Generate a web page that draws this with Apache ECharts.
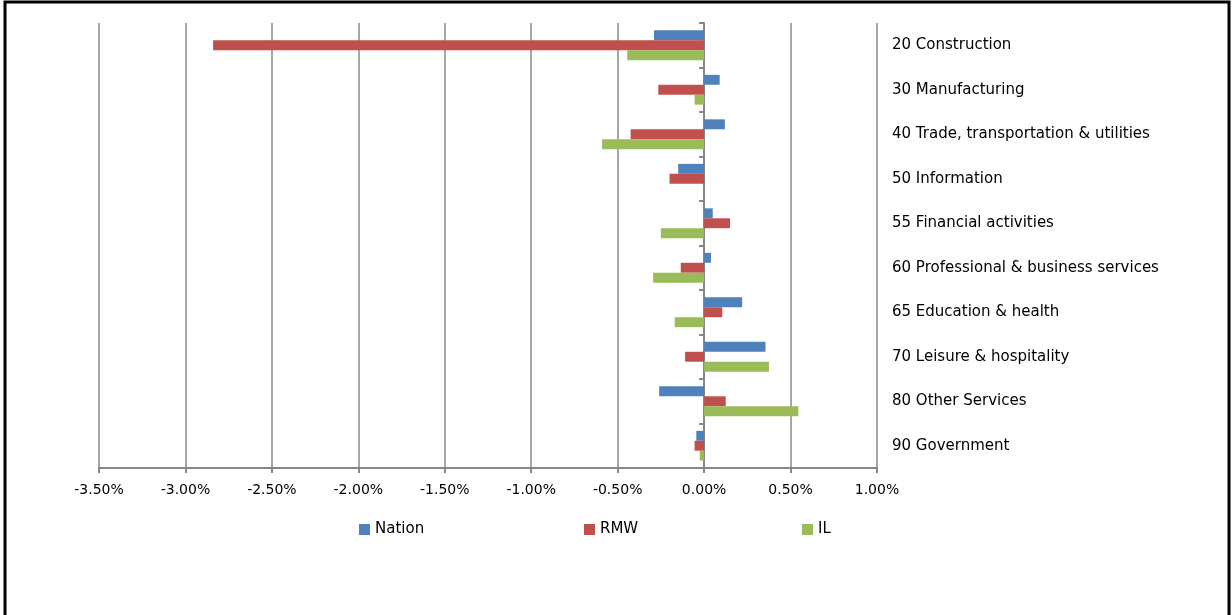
<!DOCTYPE html>
<html>
<head>
<meta charset="utf-8">
<script src="https://cdn.jsdelivr.net/npm/echarts@6/dist/echarts.min.js"></script>
<style>
  html, body { margin: 0; padding: 0; background: #fff; }
  #chart { width: 1232px; height: 615px; }
</style>
</head>
<body>
<div id="chart"></div>
<script>
// Industries, top to bottom
const categories = [
  '20 Construction',
  '30 Manufacturing',
  '40 Trade, transportation & utilities',
  '50 Information',
  '55 Financial activities',
  '60 Professional & business services',
  '65 Education & health',
  '70 Leisure & hospitality',
  '80 Other Services',
  '90 Government'
];

// Percent change by region (in %)
const nation = [-0.29, 0.09, 0.12, -0.15, 0.05, 0.04, 0.22, 0.355, -0.26, -0.045];
const rmw    = [-2.84, -0.265, -0.425, -0.20, 0.15, -0.135, 0.105, -0.11, 0.125, -0.055];
const il     = [-0.445, -0.055, -0.59, 0, -0.25, -0.295, -0.17, 0.375, 0.545, -0.025];

const seriesNames = ['Nation', 'RMW', 'IL'];
const seriesColors = ['#4F81BD', '#C0504D', '#9BBB59'];
const legendLeft = [359, 584, 802];

const FONT = 'DejaVu Sans';

const chart = echarts.init(document.getElementById('chart'), null, { renderer: 'canvas' });

chart.setOption({
  animation: false,
  backgroundColor: '#fff',
  textStyle: { fontFamily: FONT, color: '#000' },
  graphic: [{
    type: 'rect',
    shape: { x: 5, y: 2, width: 1224, height: 660 },
    style: { fill: 'none', stroke: '#000', lineWidth: 3 },
    silent: true
  }],
  // one legend entry per box so each sits at its own spot
  legend: seriesNames.map((name, i) => ({
    data: [name],
    left: legendLeft[i],
    top: 522,
    padding: 0,
    itemWidth: 11,
    itemHeight: 11,
    icon: 'rect',
    textStyle: { fontFamily: FONT, fontSize: 15, color: '#000' }
  })),
  grid: { left: 99, right: 355, top: 23, bottom: 147, containLabel: false },
  xAxis: {
    type: 'value',
    min: -3.5,
    max: 1,
    interval: 0.5,
    axisLine: { show: true, onZero: false, lineStyle: { color: '#868686', width: 2 } },
    axisTick: { show: true, length: 5, lineStyle: { color: '#868686', width: 2 } },
    splitLine: { show: true, lineStyle: { color: '#a6a6a6', width: 2 } },
    axisLabel: {
      margin: 15,
      fontSize: 14,
      fontFamily: FONT,
      color: '#000',
      formatter: v => v.toFixed(2) + '%'
    }
  },
  yAxis: [{
    type: 'category',
    data: categories,
    inverse: true,
    position: 'left',
    axisLine: { show: true, onZero: true, lineStyle: { color: '#868686', width: 2 } },
    axisTick: { show: true, length: 5, lineStyle: { color: '#868686', width: 2 } },
    axisLabel: { show: false },
    splitLine: { show: false }
  }, {
    type: 'category',
    data: categories,
    inverse: true,
    position: 'right',
    axisLine: { show: false, onZero: false },
    axisTick: { show: false },
    axisLabel: { show: true, margin: 15, fontSize: 15, fontFamily: FONT, color: '#000' },
    splitLine: { show: false }
  }],
  series: [nation, rmw, il].map((d, i) => ({
    name: seriesNames[i],
    type: 'bar',
    yAxisIndex: 0,
    data: d,
    barGap: '0%',
    barCategoryGap: '33%',
    itemStyle: { color: seriesColors[i] }
  }))
});
</script>
</body>
</html>
